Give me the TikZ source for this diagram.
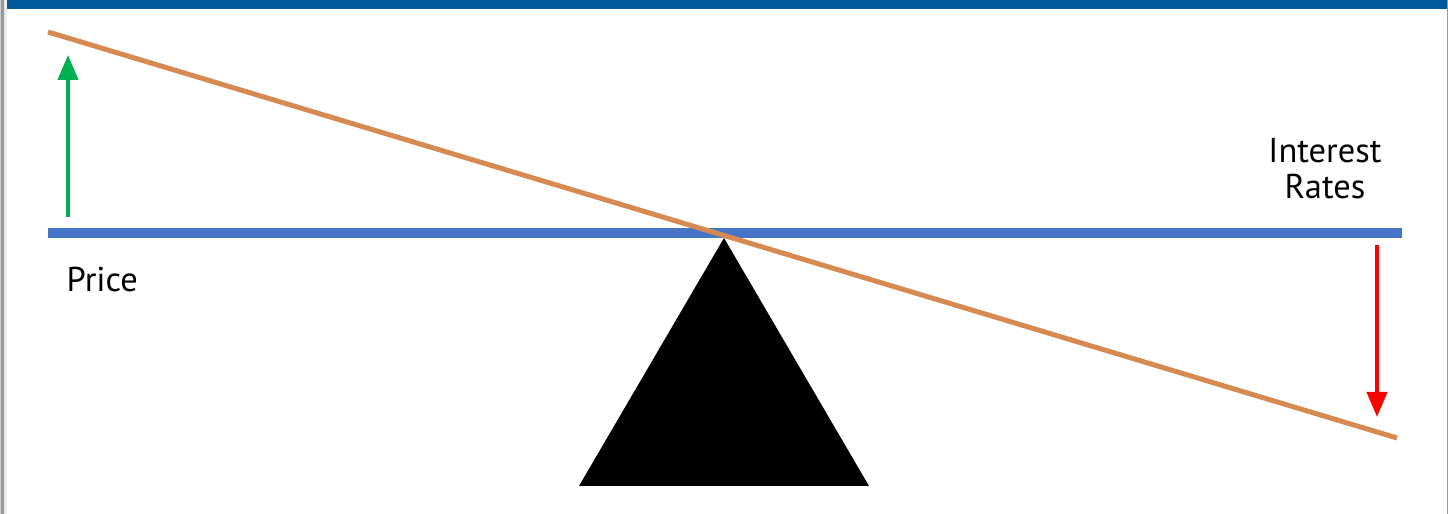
\documentclass[tikz,border=0pt]{standalone}
\usepackage{fontspec}
\setmainfont{PT Sans}
\usepackage{tikz}
\usetikzlibrary{arrows.meta}
\definecolor{SeeTopBlue}{HTML}{005A9C}
\definecolor{SeeBeamBlue}{HTML}{4674C6}
\definecolor{SeePlank}{HTML}{D68A52}
\definecolor{SeeUp}{HTML}{00B050}
\definecolor{SeeDown}{HTML}{FF0000}
\tikzset{
  seelabel/.style={font=\fontsize{9.8pt}{10.5pt}\selectfont, inner sep=0pt},
  seearrow/.style={line width=0.04cm, -{Triangle[width=0.2cm, length=0.25cm]}}
}

\begin{document}
\begin{tikzpicture}
      \useasboundingbox (0,0) rectangle (14.48,5.14);
      \fill[white] (0,0) rectangle (14.48,5.14);
      %% Page edges
      \shade[left color=black!18, right color=black!4] (0,0) rectangle (0.07,5.14);
      \fill[black!40] (0.012,0) rectangle (0.035,5.14);
      \fill[black!40] (14.47,0) rectangle (14.48,5.14);
      %% Header bar
      \fill[SeeTopBlue] (0.07,5.05) rectangle (14.47,5.14);
      %% Level beam
      \fill[SeeBeamBlue] (0.48,2.76) rectangle (14.02,2.86);
      %% Fulcrum
      \fill[black] (7.24,2.76) -- (8.69,0.28) -- (5.79,0.28) -- cycle;
      %% Tilted plank
      \draw[SeePlank, line width=0.05cm] (0.48,4.82) -- (13.97,0.76);
      %% Price goes up
      \draw[SeeUp, seearrow] (0.68,2.97) -- (0.68,4.59);
      \node[seelabel, anchor=base west] (price) at (0.66,2.22) {Price};
      %% Interest rates go down
      \draw[SeeDown, seearrow] (13.77,2.69) -- (13.77,0.97);
      \node[seelabel, align=center, anchor=base] (rates) at (13.25,3.15) {Interest\\Rates};
    \end{tikzpicture}
\end{document}
